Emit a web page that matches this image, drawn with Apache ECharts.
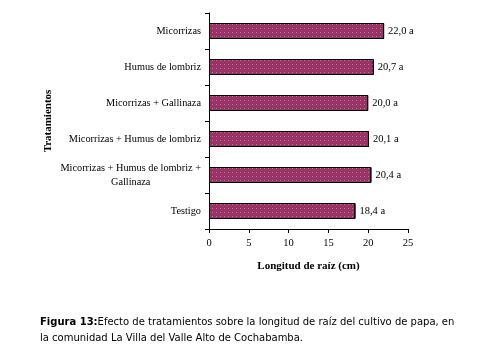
<!DOCTYPE html>
<html>
<head>
<meta charset="utf-8">
<script src="https://cdn.jsdelivr.net/npm/echarts@6/dist/echarts.min.js"></script>
<style>
  html, body { margin: 0; padding: 0; background: #fff; }
  #chart { width: 481px; height: 349px; }
</style>
</head>
<body>
<div id="chart"></div>
<script>
  // tratamientos (de arriba hacia abajo)
  var categorias = [
    'Micorrizas',
    'Humus de lombriz',
    'Micorrizas + Gallinaza',
    'Micorrizas + Humus de lombriz',
    'Micorrizas + Humus de lombriz +\nGallinaza',
    'Testigo'
  ];
  var longitud = [22.0, 20.7, 20.0, 20.1, 20.4, 18.4];
  var letras = ['a', 'a', 'a', 'a', 'a', 'a'];
  var ticksX = [0, 5, 10, 15, 20, 25];

  var serif = '"Liberation Serif", "DejaVu Serif", serif';
  var chart = echarts.init(document.getElementById('chart'));

  chart.setOption({
    backgroundColor: '#ffffff',
    animation: false,
    grid: {
      left: 209,
      right: 73,
      top: 13,
      bottom: 120
    },
    xAxis: {
      type: 'value',
      min: ticksX[0],
      max: ticksX[ticksX.length - 1],
      interval: 5,
      name: 'Longitud de raíz (cm)',
      nameLocation: 'middle',
      nameGap: 32,
      nameTextStyle: {
        fontFamily: serif,
        fontWeight: 'bold',
        fontSize: 11,
        color: '#000'
      },
      axisLine: { show: true, lineStyle: { color: '#000', width: 1 } },
      axisTick: { show: true, length: 4, lineStyle: { color: '#000' } },
      axisLabel: {
        fontFamily: serif,
        fontSize: 10.5,
        color: '#000',
        margin: 9
      },
      splitLine: { show: false }
    },
    yAxis: {
      type: 'category',
      inverse: true,
      data: categorias,
      name: 'Tratamientos',
      nameLocation: 'middle',
      nameGap: 155,
      nameRotate: 90,
      nameTextStyle: {
        fontFamily: serif,
        fontWeight: 'bold',
        fontSize: 11,
        color: '#000'
      },
      axisLine: { show: true, lineStyle: { color: '#000', width: 1 } },
      axisTick: { show: true, length: 4, lineStyle: { color: '#000' } },
      axisLabel: {
        fontFamily: serif,
        fontSize: 10.3,
        color: '#000',
        margin: 8,
        lineHeight: 14,
        formatter: function (v) {
          var partes = v.split('\n');
          if (partes.length === 1) return v;
          return partes[0] + '\n{c|' + partes[1] + '}';
        },
        rich: {
          c: {
            width: 139,
            align: 'center',
            fontFamily: serif,
            fontSize: 10.3,
            color: '#000'
          }
        }
      }
    },
    series: [{
      type: 'bar',
      data: longitud,
      barWidth: 16,
      itemStyle: {
        color: '#993366',
        borderColor: '#000',
        borderWidth: 1,
        decal: {
          symbol: 'rect',
          symbolSize: 1,
          color: 'rgba(255,255,255,0.35)',
          dashArrayX: [1, 3],
          dashArrayY: [1, 3],
          rotation: 0
        }
      },
      label: {
        show: true,
        position: 'right',
        distance: 4,
        fontFamily: serif,
        fontSize: 10.5,
        color: '#000',
        formatter: function (p) {
          return p.value.toFixed(1).replace('.', ',') + ' ' + letras[p.dataIndex];
        }
      }
    }],
    graphic: [{
      type: 'text',
      left: 40,
      top: 314,
      style: {
        text: '{b|Figura 13:}Efecto de tratamientos sobre la longitud de raíz del cultivo de papa, en\nla comunidad La Villa del Valle Alto de Cochabamba.',
        fontFamily: '"DejaVu Sans", sans-serif',
        fontSize: 10,
        lineHeight: 16,
        fill: '#000',
        rich: {
          b: {
            fontFamily: '"DejaVu Sans", sans-serif',
            fontSize: 10,
            fontWeight: 'bold',
            fill: '#000'
          }
        }
      }
    }]
  });
</script>
</body>
</html>
